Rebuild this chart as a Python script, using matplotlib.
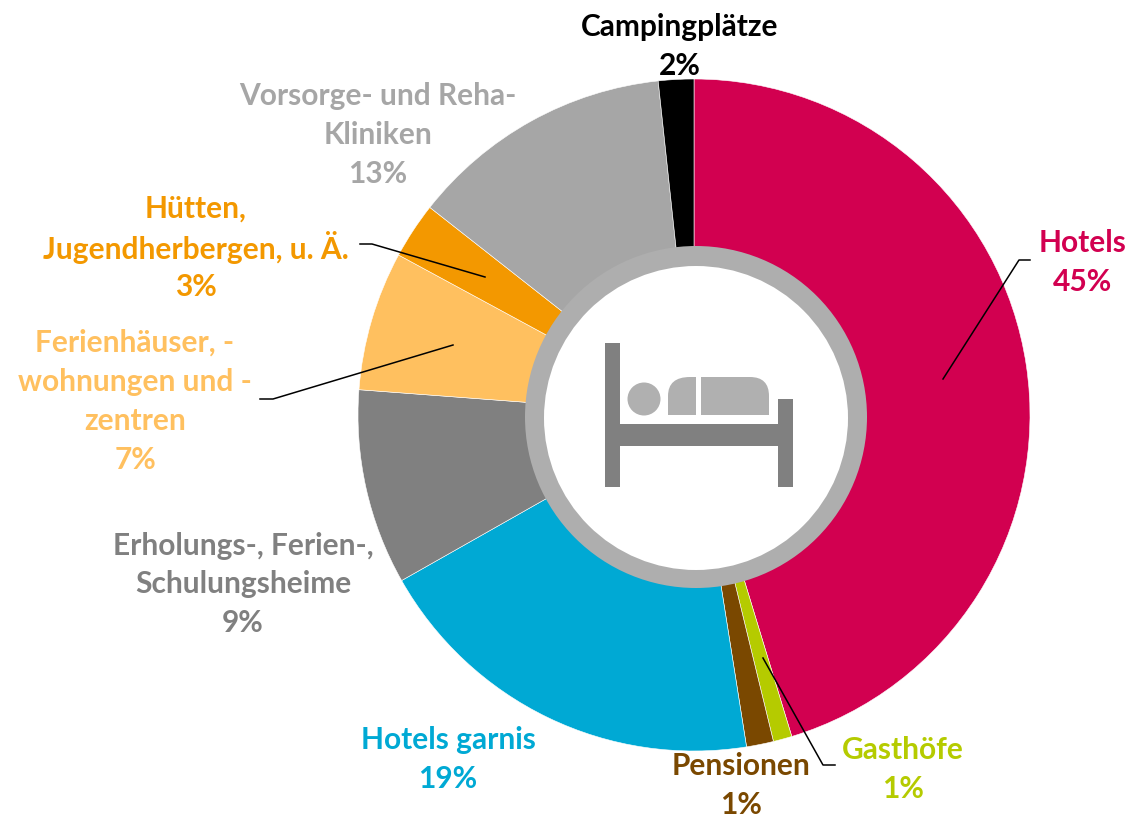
import matplotlib
matplotlib.use('Agg')
import matplotlib.pyplot as plt
from matplotlib.patches import Circle, Rectangle, PathPatch
from matplotlib.path import Path

# clockwise from 12 o'clock
names = ['Hotels', 'Gasthöfe', 'Pensionen', 'Hotels garnis', 'Erholungs-, Ferien-,\nSchulungsheime',
         'Ferienhäuser, -\nwohnungen und -\nzentren', 'Hütten,\nJugendherbergen, u. Ä.',
         'Vorsorge- und Reha-\nKliniken', 'Campingplätze']
shares = [45.3, 0.9, 1.3, 19.3, 9.4, 6.7, 2.7, 12.7, 1.7]
shown = ['45%', '1%', '1%', '19%', '9%', '7%', '3%', '13%', '2%']
colors = ['#D20050', '#B5CB00', '#7A4800', '#00A9D4', '#808080', '#FFC05F', '#F39800', '#A6A6A6', '#000000']
label_pos = [(1083, 260), (903, 767), (741, 783), (448, 757), (243, 582), (135, 399), (196, 245), (378, 132), (680, 44)]

W, H = 1132, 817
CX, CY, R = 694, 415, 336
PITCH = 39

plt.rcParams['font.family'] = ['Lato', 'DejaVu Sans']

fig = plt.figure(figsize=(W / 100, H / 100), dpi=100)

ax_pie = fig.add_axes([(CX - R) / W, 1 - (CY + R) / H, 2 * R / W, 2 * R / H])
ax_pie.pie(shares, colors=colors, startangle=90, counterclock=False, radius=1,
           wedgeprops={'edgecolor': 'white', 'linewidth': 0.4})
ax_pie.set_xlim(-1, 1)
ax_pie.set_ylim(-1, 1)

# overlay in pixel coordinates
ax = fig.add_axes([0, 0, 1, 1])
ax.set_xlim(0, W)
ax.set_ylim(H, 0)
ax.axis('off')
ax.patch.set_alpha(0)

# center disc
ax.add_patch(Circle((696, 417), 171, color='#AEAEAE', lw=0))
ax.add_patch(Circle((696, 418), 152, color='white', lw=0))

# bed icon
dark = '#808080'
light = '#B0B0B0'
ax.add_patch(Rectangle((605, 343), 15, 144, color=dark, lw=0))
ax.add_patch(Rectangle((778, 399), 15, 88, color=dark, lw=0))
ax.add_patch(Rectangle((620, 424), 158, 22, color=dark, lw=0))
ax.add_patch(Circle((644, 399), 16.5, color=light, lw=0))
torso = Path([(668, 415), (668, 396), (668, 377), (690, 377), (696, 377), (696, 415), (668, 415)],
             [Path.MOVETO, Path.LINETO, Path.CURVE3, Path.CURVE3, Path.LINETO, Path.LINETO, Path.CLOSEPOLY])
body = Path([(701, 415), (701, 377), (750, 377), (769, 377), (769, 396), (769, 415), (701, 415)],
            [Path.MOVETO, Path.LINETO, Path.LINETO, Path.CURVE3, Path.CURVE3, Path.LINETO, Path.CLOSEPOLY])
ax.add_patch(PathPatch(torso, color=light, lw=0))
ax.add_patch(PathPatch(body, color=light, lw=0))

# leader lines
leaders = [
    ([1030, 1019, 943], [260, 260, 379]),
    ([835, 823, 763], [765, 765, 658]),
    ([260, 273, 453], [399, 399, 345]),
    ([360, 372, 485], [244, 244, 277]),
]
for xs, ys in leaders:
    ax.plot(xs, ys, color='black', lw=1.1)

# labels, one text per line so the line pitch stays even
for name, pct, col, (x, y) in zip(names, shown, colors, label_pos):
    lines = name.split('\n') + [pct]
    top = y - PITCH * (len(lines) - 1) / 2
    for i, line in enumerate(lines):
        ax.text(x, top + i * PITCH, line, color=col, ha='center', va='center_baseline',
                fontsize=21.5, fontweight='bold')

fig.savefig('out.png', dpi=100)
